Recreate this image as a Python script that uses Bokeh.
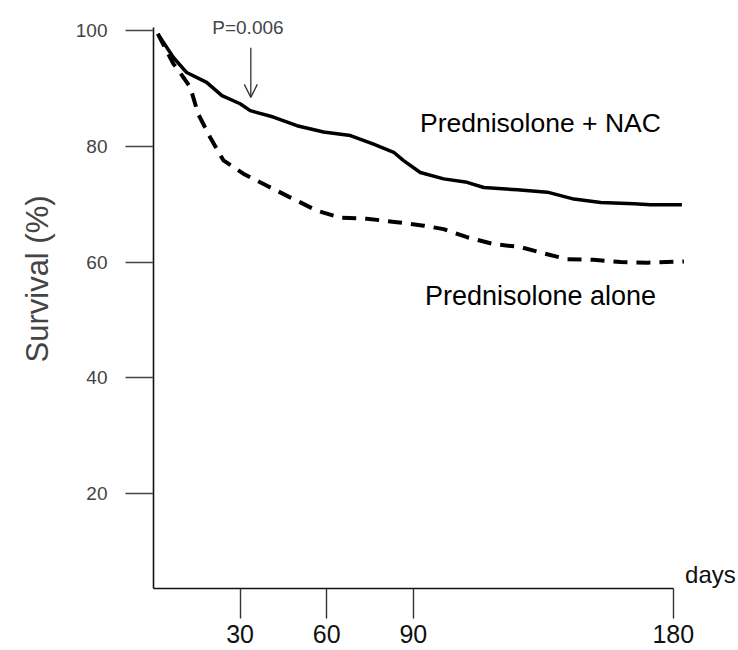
from bokeh.plotting import figure
from bokeh.models import FixedTicker, Label, Arrow, OpenHead, Range1d, Title
from bokeh.embed import file_html
from bokeh.resources import INLINE

# ---- data (days, survival %) ----
nac_days = [1.5, 6.9, 11.5, 18.4, 23.7, 30.0, 33.5, 41.5, 49.7, 58.9, 68.2, 76.2, 83.2,
            86.5, 92.4, 100.5, 108.6, 114.4, 126.0, 136.4, 145.6, 154.9, 166.4, 172.2, 183.0]
nac_surv = [99.5, 95.4, 92.8, 91.1, 88.8, 87.4, 86.2, 85.1, 83.6, 82.5, 81.9, 80.4, 79.0,
            77.6, 75.5, 74.4, 73.8, 72.9, 72.5, 72.1, 70.9, 70.3, 70.1, 69.9, 69.9]

alone_days = [1.5, 6.9, 9.2, 12.7, 15.5, 19.6, 24.2, 31.1, 39.3, 47.3, 56.6, 64.7, 73.9,
              84.3, 93.6, 100.5, 108.6, 117.9, 127.1, 135.2, 143.3, 152.5, 161.8, 171.1, 183.7]
alone_surv = [99.5, 94.3, 92.8, 90.3, 85.6, 81.6, 77.6, 75.3, 73.2, 71.2, 68.9, 67.7, 67.5,
              66.9, 66.3, 65.7, 64.3, 63.1, 62.6, 61.5, 60.5, 60.4, 60.0, 59.9, 60.1]

x_ticks = [30, 60, 90, 180]
y_ticks = [20, 40, 60, 80, 100]
series_labels = ["Prednisolone + NAC", "Prednisolone alone"]
p_value_text = "P=0.006"
x_label = "days"
y_label = "Survival (%)"

FONT = "Liberation Sans"

p = figure(width=738, height=650, frame_width=585, frame_height=588,
           x_range=Range1d(0, 202.6), y_range=Range1d(3.5, 105.27),
           output_backend="svg", toolbar_location=None,
           min_border_left=153, min_border_right=0, min_border_top=0, min_border_bottom=62)
p.outline_line_color = None
p.xgrid.visible = False
p.ygrid.visible = False
p.background_fill_color = "white"
p.border_fill_color = "white"

# axes
xa = p.xaxis[0]
xa.ticker = FixedTicker(ticks=x_ticks)
xa.bounds = (0, 180)
xa.major_tick_out = 30
xa.major_tick_in = 0
xa.minor_tick_out = 0
xa.minor_tick_in = 0
xa.axis_line_width = 1.6
xa.axis_line_color = "#111111"
xa.major_tick_line_color = "#333333"
xa.major_tick_line_width = 1.4
xa.major_label_text_font = FONT
xa.major_label_text_font_size = "25px"
xa.major_label_text_color = "#111111"
xa.major_label_standoff = 6

ya = p.yaxis[0]
ya.ticker = FixedTicker(ticks=y_ticks)
ya.bounds = (3.5, 100.6)
ya.major_tick_out = 28
ya.major_tick_in = 0
ya.minor_tick_out = 0
ya.minor_tick_in = 0
ya.axis_line_width = 1.6
ya.axis_line_color = "#111111"
ya.major_tick_line_color = "#444444"
ya.major_tick_line_width = 1.4
ya.major_label_text_font = FONT
ya.major_label_text_font_size = "19px"
ya.major_label_text_color = "#444444"
ya.major_label_standoff = 18

# y axis title placed in the left panel, shifted up from the frame bottom
p.add_layout(Title(text=y_label, align="left", offset=226, text_font=FONT,
                   text_font_size="31px", text_font_style="normal",
                   text_color="#444444", standoff=35), "left")

# curves
p.line(nac_days, nac_surv, line_color="black", line_width=3.5, line_join="round")
p.line(alone_days, alone_surv, line_color="black", line_width=4, line_dash="14 9")

# annotations
p.add_layout(Label(x=92.3, y=84.15, text=series_labels[0], text_font=FONT,
                   text_font_size="26.5px", text_color="black",
                   text_align="left", text_baseline="middle"))
p.add_layout(Label(x=94.0, y=54.2, text=series_labels[1], text_font=FONT,
                   text_font_size="27px", text_color="black",
                   text_align="left", text_baseline="middle"))
p.add_layout(Label(x=32.7, y=100.6, text=p_value_text, text_font=FONT,
                   text_font_size="19px", text_color="#444444",
                   text_align="center", text_baseline="middle"))
p.add_layout(Arrow(x_start=33.7, y_start=97.1, x_end=33.7, y_end=88.5,
                   line_color="#333333", line_width=1.3,
                   end=OpenHead(size=13, line_color="#333333", line_width=1.3)))
p.add_layout(Label(x=184.1, y=5.9, text=x_label, text_font=FONT,
                   text_font_size="24px", text_color="#111111",
                   text_align="left", text_baseline="middle"))

open("out.html", "w").write(file_html(p, INLINE))
